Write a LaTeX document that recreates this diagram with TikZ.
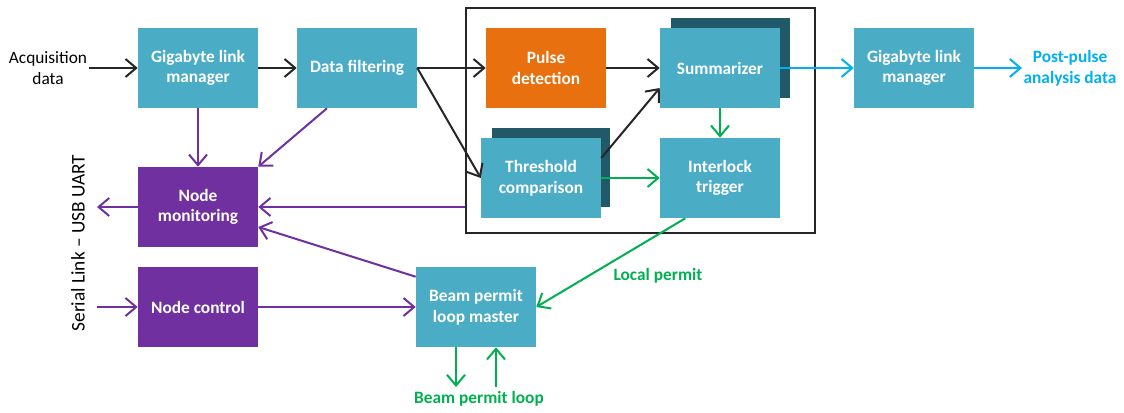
\documentclass[tikz,border=0pt]{standalone}
\usepackage{fontspec}
\setmainfont{Carlito}
\usepackage{tikz}
\usetikzlibrary{arrows.meta,positioning}
\usepackage{xcolor}
\definecolor{aqua}{HTML}{4BACC6}
\definecolor{deepaqua}{HTML}{215968}
\definecolor{flame}{HTML}{E8700E}
\definecolor{plum}{HTML}{7030A0}
\definecolor{leaf}{HTML}{00B050}
\definecolor{sky}{HTML}{00B0F0}
\definecolor{ink}{HTML}{262626}
\newcommand{\boxfont}{\fontsize{13}{15.5}\selectfont\bfseries}
\tikzset{block/.style={fill=aqua,text=white,font=\boxfont,minimum width=90pt,minimum height=60pt,align=center,inner sep=2pt},ctrlblock/.style={block,fill=plum},pulseblock/.style={block,fill=flame},backblock/.style={fill=deepaqua,minimum width=89pt,minimum height=59.5pt,inner sep=0pt},corebox/.style={draw=ink,line width=1.5pt,minimum width=261.75pt,minimum height=168.75pt,inner sep=0pt},dataflow/.style={draw=ink,line width=1.5pt,->},ctrlflow/.style={draw=plum,line width=1.5pt,->},permitflow/.style={draw=leaf,line width=1.5pt,->},outflow/.style={draw=sky,line width=1.5pt,->},plainlabel/.style={font=\fontsize{13}{15.5}\selectfont,align=center,inner sep=1pt}}

\begin{document}
\begin{tikzpicture}[x=0.75pt,y=-0.75pt,>={Straight Barb[length=8pt,width=13.5pt]}]
\useasboundingbox (0,0) rectangle (1124,412);
\node[corebox] (core) at (640.5,120.5) {};
\node[backblock] (sumback) at (730.5,58) {};
\node[backblock] (thrback) at (551,167.5) {};
\node[block] (glma) at (198,68) {Gigabyte link\\manager};
\node[block] (filt) at (357,68) {Data filtering};
\node[pulseblock] (pulse) at (546,68) {Pulse\\detection};
\node[block] (summ) at (720,68) {Summarizer};
\node[block] (glmb) at (914,68) {Gigabyte link\\manager};
\node[block] (thr) at (541,178) {Threshold\\comparison};
\node[block] (ilock) at (720,178) {Interlock\\trigger};
\node[ctrlblock] (mon) at (198,207) {Node\\monitoring};
\node[ctrlblock] (ctl) at (198,307) {Node control};
\node[block] (bpm) at (476,307) {Beam permit\\loop master};
\node[plainlabel] (acq) at (48,68) {Acquisition\\data};
\node[plainlabel,font=\boxfont,text=sky] (post) at (1070,68) {Post-pulse\\analysis data};
\node[plainlabel,font=\fontsize{14.5}{17}\selectfont,rotate=90] (serial) at (78,243) {Serial Link -- USB UART};
\node[plainlabel,font=\boxfont,text=leaf] (local) at (658,276) {Local permit};
\node[plainlabel,font=\boxfont,text=leaf] (loop) at (479,399) {Beam permit loop};
\coordinate (monout) at (97,207);
\coordinate (ctlin) at (97,307);
\coordinate (loopout) at (456,387);
\coordinate (loopin) at (496,387);
% data path
\draw[dataflow] (acq.east) -- (glma.west);
\draw[dataflow] (glma) -- (filt);
\draw[dataflow] (filt.east) -- (pulse.west);
\draw[dataflow] (filt.east) -- (thr.west);
\draw[dataflow] (pulse) -- (summ);
\draw[dataflow] ([yshift=15pt]thr.east) -- ([yshift=-15pt]summ.west);
\draw[outflow] (summ) -- (glmb);
\draw[outflow] (glmb.east) -- (post.west);
% permit path
\draw[permitflow] (thr) -- (ilock);
\draw[permitflow] (summ) -- (ilock);
\draw[permitflow] ([xshift=-26pt]ilock.south) -- (bpm.east);
\draw[permitflow] ([xshift=-15pt]bpm.south) -- (loopout);
\draw[permitflow] (loopin) -- ([xshift=15pt]bpm.south);
% monitoring and control
\draw[ctrlflow] (glma) -- (mon);
\draw[ctrlflow] ([xshift=-22.5pt]filt.south) -- (mon.north east);
\draw[ctrlflow] (core.west |- mon.east) -- (mon.east);
\draw[ctrlflow] ([yshift=-7.5pt]bpm.north west) -- ([yshift=-15pt]mon.east);
\draw[ctrlflow] (mon.west) -- (monout);
\draw[ctrlflow] (ctlin) -- (ctl.west);
\draw[ctrlflow] (ctl) -- (bpm);
\end{tikzpicture}
\end{document}
